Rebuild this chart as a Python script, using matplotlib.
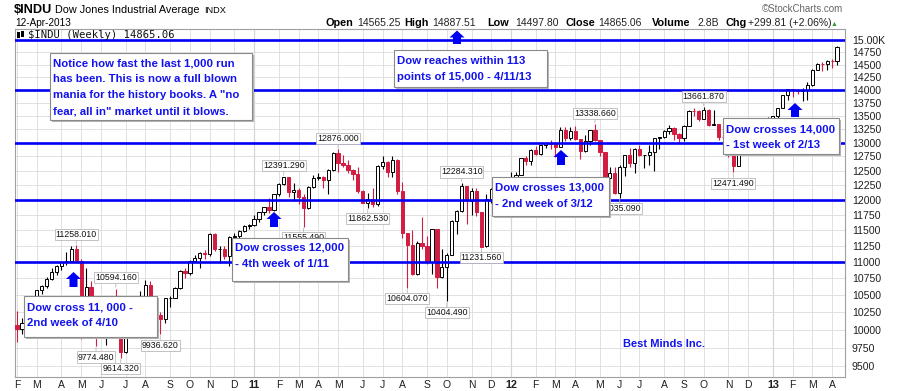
import numpy as np
import pandas as pd
import matplotlib
matplotlib.use("Agg")
import matplotlib.pyplot as plt
from matplotlib.patches import Rectangle, Polygon
from matplotlib.ticker import FixedLocator, NullLocator

plt.rcParams['font.family'] = ['Liberation Sans', 'DejaVu Sans']

# weekly bars, week ending 5-Feb-2010 .. 12-Apr-2013
weeks = pd.date_range('2010-02-05', '2013-04-12', freq='W-FRI')

opens = [
    # 2010
    10067, 10012, 10099, 10402, 10325, 10566, 10625, 10742, 10850, 10927, 10997, 11019,
    11204, 11009, 10380, 10620, 10193, 10137, 9932, 10212, 10450, 10144, 9686, 10198,
    10098, 10425, 10466, 10654, 10303, 10213, 10150, 10448, 10462, 10608, 10860, 10829,
    11006, 11062, 11133, 11118, 11444, 11192, 11204, 11092, 11382, 11410, 11492, 11573,
    # 2011
    11578, 11675, 11787, 11872, 11824, 12092, 12273, 12380, 12130, 12170, 12044, 11859,
    12221, 12377, 12380, 12342, 12505, 12811, 12638, 12596, 12512, 12441, 12151, 11952,
    12004, 11934, 12582, 12657, 12480, 12681, 12143, 11445, 11269, 10818, 11285, 11240,
    10992, 11509, 10771, 10913, 11103, 11644, 11809, 12231, 11983, 12153, 11796, 11240,
    12019, 12184, 11866, 12294,
    # 2012
    12218, 12360, 12422, 12720, 12660, 12862, 12801, 12950, 12983, 12978, 12922, 13233,
    13081, 13212, 13060, 12850, 13029, 13229, 13038, 12821, 12369, 12454, 12119, 12554,
    12767, 12640, 12880, 12773, 12777, 12822, 13075, 13096, 13207, 13275, 13157, 13090,
    13306, 13593, 13579, 13437, 13610, 13328, 13343, 13107, 13093, 12815, 12588, 13010,
    13025, 13155, 13135, 13190,
    # 2013
    12938, 13435, 13488, 13650, 13896, 14010, 13993, 13982, 14001, 14090, 14397, 14515,
    14512, 14579, 14565.25,
]
highs = [
    10270, 10165, 10420, 10440, 10570, 10640, 10760, 10900, 10950, 11000, 11154, 11240,
    11258.01, 11050, 10900, 10700, 10258, 10380, 10220, 10481, 10594.16, 10165, 10210, 10400,
    10450, 10560, 10720, 10700, 10460, 10250, 10460, 10480, 10620, 10870, 10900, 11030,
    11100, 11150, 11180, 11450, 11450, 11250, 11250, 11400, 11460, 11500, 11580, 11600,
    11750, 11800, 11880, 12020, 12100, 12280, 12391.29, 12385, 12290, 12200, 12090, 12240,
    12420, 12450, 12400, 12520, 12830, 12876.00, 12780, 12690, 12520, 12570, 12160, 12120,
    12200, 12600, 12750, 12660, 12750, 12700, 12300, 11450, 11500, 11330, 11716, 11400,
    11520, 11520, 11200, 11130, 11660, 11820, 12284.31, 12240, 12200, 12200, 11800, 12100,
    12190, 12200, 12300, 12300,
    12480, 12470, 12730, 12760, 12880, 12930, 12960, 13000, 13050, 12990, 13290, 13290,
    13290, 13300, 13060, 13130, 13240, 13338.66, 13040, 12830, 12560, 12560, 12590, 12780,
    12900, 12900, 12960, 12780, 12950, 13080, 13110, 13230, 13330, 13290, 13180, 13330,
    13600, 13653, 13600, 13661.87, 13620, 13600, 13350, 13290, 13290, 12830, 13020, 13060,
    13170, 13310, 13370, 13200,
    13480, 13500, 13650, 13900, 14020, 14010, 14020, 14030, 14150, 14420, 14540, 14560,
    14590, 14620, 14887.51,
]
lows = [
    9835, 9940, 10090, 10250, 10300, 10520, 10600, 10720, 10800, 10880, 10950, 11000,
    11000, 9870, 10380, 9918, 9774.48, 9900, 9790, 10190, 10100, 9614.32, 9680, 10080,
    9990, 10410, 10460, 10250, 10180, 9936.62, 10100, 10320, 10460, 10590, 10750, 10800,
    10990, 10900, 11040, 11090, 11170, 10980, 11050, 10930, 11320, 11380, 11470, 11520,
    11560, 11630, 11750, 11780, 11810, 12060, 12250, 12050, 11980, 11930, 11555.49, 11850,
    12200, 12330, 12200, 12090, 12500, 12470, 12570, 12450, 12330, 12120, 11940, 11862.53,
    11880, 11900, 12530, 12380, 12390, 12090, 11380, 10604.07, 10800, 10800, 11200, 10970,
    10810, 10600, 10750, 10404.49, 11100, 11430, 11800, 11600, 11740, 11730, 11231.56, 11235,
    11950, 11730, 11740, 12150,
    12210, 12330, 12420, 12600, 12600, 12780, 12770, 12900, 12880, 12740, 12920, 13020,
    13050, 13040, 12710, 12830, 12960, 13020, 12760, 12350, 12350, 12100, 12035.09, 12410,
    12560, 12450, 12750, 12550, 12600, 12490, 12880, 13080, 13150, 13040, 12990, 13030,
    13300, 13500, 13400, 13430, 13300, 13320, 13050, 13080, 12740, 12471.49, 12580, 12790,
    12900, 13130, 13120, 12880,
    12930, 13300, 13450, 13650, 13800, 13850, 13920, 13780, 13790, 14080, 14390, 14380,
    14400, 14430, 14497.80,
]
closes = [
    10012, 10099, 10402, 10325, 10566, 10625, 10742, 10850, 10927, 10997, 11019, 11204,
    11009, 10380, 10620, 10193, 10137, 9932, 10212, 10450, 10144, 9686, 10198, 10098,
    10425, 10466, 10654, 10303, 10213, 10150, 10448, 10462, 10608, 10860, 10829, 11006,
    11062, 11133, 11118, 11444, 11192, 11204, 11092, 11382, 11410, 11492, 11573, 11578,
    11675, 11787, 11872, 11824, 12092, 12273, 12391, 12130, 12170, 12044, 11859, 12221,
    12377, 12380, 12342, 12505, 12811, 12638, 12596, 12512, 12441, 12151, 11952, 12004,
    11934, 12582, 12657, 12480, 12681, 12143, 11445, 11269, 10818, 11285, 11240, 10992,
    11509, 10771, 10913, 11103, 11644, 11809, 12231, 11983, 12153, 11796, 11232, 12019,
    12184, 11866, 12294, 12218,
    12360, 12422, 12720, 12660, 12862, 12801, 12950, 12983, 12978, 12922, 13233, 13081,
    13212, 13060, 12850, 13029, 13229, 13038, 12821, 12369, 12454, 12119, 12554, 12767,
    12640, 12880, 12773, 12777, 12822, 13075, 13096, 13207, 13275, 13157, 13090, 13306,
    13593, 13579, 13437, 13610, 13328, 13343, 13107, 13093, 12815, 12588, 13010, 13025,
    13155, 13135, 13190, 12938,
    13435, 13488, 13650, 13896, 14010, 13993, 13982, 14001, 14090, 14397, 14515, 14512,
    14579, 14565.25, 14865.06,
]

# first bar of each month on the axis
month_idx = [0, 4, 9, 13, 17, 22, 26, 31, 35, 39, 44, 48, 53, 57, 61, 65, 70, 74, 78, 83,
             87, 92, 96, 100, 105, 109, 113, 118, 122, 126, 131, 135, 139, 144, 148, 153,
             157, 161, 165]
month_lbl = ['F', 'M', 'A', 'M', 'J', 'J', 'A', 'S', 'O', 'N', 'D', '11',
             'F', 'M', 'A', 'M', 'J', 'J', 'A', 'S', 'O', 'N', 'D', '12',
             'F', 'M', 'A', 'M', 'J', 'J', 'A', 'S', 'O', 'N', 'D', '13',
             'F', 'M', 'A']
y_ticks = list(range(9500, 15001, 250))
y_lbl = [str(v) if v < 15000 else '15.00K' for v in y_ticks]
blue_levels = [11000, 12000, 13000, 14000, 15000]

# StockCharts high/low flags
peak_idx = [12, 20, 16, 21, 29, 58, 54, 65, 71, 79, 87, 90, 94, 117, 122, 139, 145]
peak_side = ['hi', 'hi', 'lo', 'lo', 'lo', 'lo', 'hi', 'hi', 'lo', 'lo', 'lo', 'hi', 'lo',
             'hi', 'lo', 'hi', 'lo']
peak_text = ['11258.010', '10594.160', '9774.480', '9614.320', '9936.620', '11555.490',
             '12391.290', '12876.000', '11862.530', '10604.070', '10404.490', '12284.310',
             '11231.560', '13338.660', '12035.090', '13661.870', '12471.490']

RED = '#d21c42'
BLUE = '#0000f5'
NOTE = '#1212ee'
W, H = 897, 391

fig = plt.figure(figsize=(W / 100, H / 100), dpi=100)
ax = fig.add_axes([15 / W, 1 - 377 / H, 830 / W, 348 / H])

x = np.arange(len(closes))
o = np.array(opens, float)
hi = np.array(highs, float)
lo = np.array(lows, float)
c = np.array(closes, float)
prev = np.r_[o[0], c[:-1]]
edge = np.where(c >= prev, 'black', RED)
fill = np.where(c > o, 'white', edge)

ax.vlines(x, lo, hi, colors=edge, lw=0.8, zorder=2)
ax.bar(x, np.abs(c - o), bottom=np.minimum(o, c), width=0.66, color=fill,
       edgecolor=edge, lw=0.7, zorder=3)

for lv in blue_levels:
    ax.axhline(lv, color=BLUE, lw=1.9, zorder=4)

ax.set_yscale('log')
ax.set_xlim(-0.4, 167.6)
ax.set_ylim(9359, 15243)
ax.yaxis.set_major_locator(FixedLocator(y_ticks))
ax.yaxis.set_minor_locator(NullLocator())
ax.set_yticklabels(y_lbl)
ax.yaxis.tick_right()
ax.tick_params(axis='y', length=0, pad=5, labelsize=7.6, labelcolor='#202020')
ax.set_xticks(month_idx)
ax.set_xticklabels(month_lbl)
ax.tick_params(axis='x', length=0, pad=2, labelsize=7.5, labelcolor='#202020')
for t in ax.get_xticklabels():
    if t.get_text().isdigit():
        t.set_fontweight('bold')
        t.set_fontsize(7.8)
ax.grid(True, color='#dcdcdc', lw=0.6, zorder=0)
ax.set_axisbelow(True)
for i, lb in zip(month_idx, month_lbl):
    if lb.isdigit():
        ax.axvline(i, color='#b4b4b4', lw=0.8, zorder=0.5)
for s in ax.spines.values():
    s.set_color('#a0a0a0')
    s.set_linewidth(0.8)

for txt, i, side in zip(peak_text, peak_idx, peak_side):
    val = hi[i] if side == 'hi' else lo[i]
    dy = 11 if side == 'hi' else -11
    ax.annotate(txt, xy=(i, val), xytext=(0, dy), textcoords='offset pixels',
                ha='center', va='center', fontsize=6.3, color='#111111',
                bbox=dict(boxstyle='square,pad=0.12', fc='white', ec='#b8b8b8', lw=0.6),
                arrowprops=dict(arrowstyle='-', color='#b8b8b8', lw=0.6, shrinkA=0, shrinkB=1),
                zorder=6)

# overlay in pixel coordinates for header, notes and arrows
ov = fig.add_axes([0, 0, 1, 1], zorder=10)
ov.set_xlim(0, W)
ov.set_ylim(H, 0)
ov.axis('off')

ov.text(14, 13.3, '$INDU', fontsize=9.2, fontweight='bold', va='baseline')
ov.text(55, 13.3, 'Dow Jones Industrial Average', fontsize=7.8, va='baseline')
ov.text(204, 13.3, 'INDX', fontsize=6.6, va='baseline')
ov.text(15, 26, '12-Apr-2013', fontsize=7.2, va='baseline')
ov.text(843, 11.5, '\u00a9StockCharts.com', fontsize=7, color='#666666', ha='right',
        va='baseline')
head = [('Open', 325, True), ('14565.25', 357, False), ('High', 404, True),
        ('14887.51', 432, False), ('Low', 487, True), ('14497.80', 515, False),
        ('Close', 565, True), ('14865.06', 598, False), ('Volume', 652, True),
        ('2.8B', 697, False), ('Chg', 725, True), ('+299.81 (+2.06%)', 748, False)]
for s, hx, b in head:
    ov.text(hx, 25.7, s, fontsize=7.8 if b else 7.5, fontweight='bold' if b else 'normal',
            va='baseline', color='black' if b else '#222222')
ov.text(831, 25.5, '\u25b2', fontsize=5, color='#2e9a3a', va='baseline')

ov.add_patch(Rectangle((17, 32), 2.5, 6, fc='black', ec='none'))
ov.add_patch(Rectangle((21, 31), 2.5, 6, fc='black', ec='none'))
ov.text(28, 37.8, '$INDU (Weekly) 14865.06', family='DejaVu Sans Mono', fontsize=7.6,
        va='baseline', color='#111111')


def note(x0, y0, x1, y1, tx, baselines, lines):
    ov.add_patch(Rectangle((x0 + 2, y0 + 2), x1 - x0, y1 - y0, fc='#b5b5b5', ec='none',
                           zorder=1))
    ov.add_patch(Rectangle((x0, y0), x1 - x0, y1 - y0, fc='white', ec='#8a8a8a', lw=0.8,
                           zorder=2))
    for s, yb in zip(lines, baselines):
        ov.text(tx, yb, s, fontsize=8.2, fontweight='bold', color=NOTE, va='baseline',
                zorder=3)


note(50, 53, 252, 120, 53, [66, 82, 98, 114],
     ['Notice how fast the last 1,000 run', 'has been. This is now a full blown',
      'mania for the history books. A "no', 'fear, all in" market until it blows.'])
note(394, 50, 547, 87, 397, [64, 80], ['Dow reaches within 113', 'points of 15,000 - 4/11/13'])
note(492, 177, 609, 216, 495, [191, 207], ['Dow crosses 13,000', '- 2nd week of 3/12'])
note(723, 118, 839, 154, 726, [132, 148], ['Dow crosses 14,000', '- 1st week of 2/13'])
note(232, 238, 348, 281, 235, [251, 267], ['Dow crosses 12,000', '- 4th week of 1/11'])
note(24, 296, 157, 337, 27, [311, 326], ['Dow cross 11, 000 -', '2nd week of 4/10'])

ov.text(623, 347, 'Best Minds Inc.', fontsize=8, fontweight='bold', color=NOTE,
        va='baseline')


def up_arrow(cx, top, bottom):
    pts = [(cx, top), (cx + 7.5, top + 7), (cx + 4, top + 7), (cx + 4, bottom),
           (cx - 4, bottom), (cx - 4, top + 7), (cx - 7.5, top + 7)]
    ov.add_patch(Polygon(pts, closed=True, fc=BLUE, ec='none', zorder=4))


up_arrow(73.5, 272, 287)
up_arrow(274, 212, 227)
up_arrow(561, 150, 165)
up_arrow(795, 103, 117)
up_arrow(457, 30.5, 44)

fig.savefig('out.png', dpi=100)
